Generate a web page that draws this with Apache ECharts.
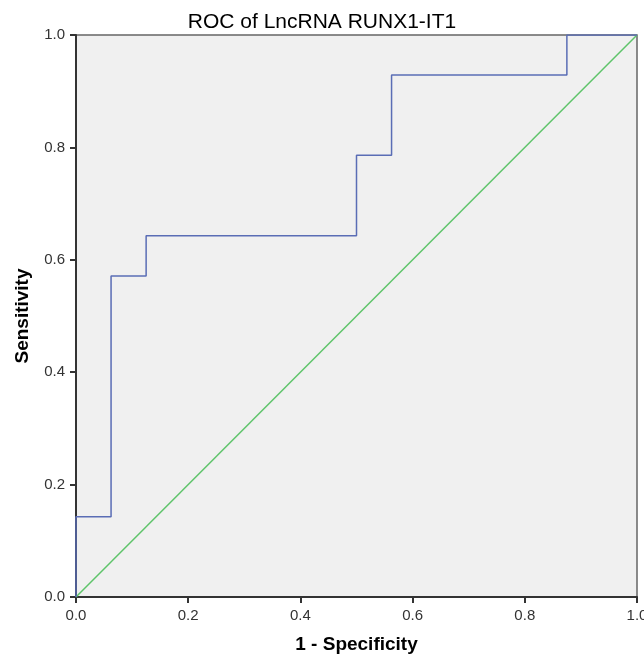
<!DOCTYPE html>
<html><head><meta charset="utf-8">
<script src="https://cdn.jsdelivr.net/npm/echarts@6/dist/echarts.min.js"></script>
<style>html,body{margin:0;padding:0;background:#fff;overflow:hidden}#c{width:644px;height:659px}</style>
</head><body><div id="c"></div>
<script>
const fpr = [0, 0, 0.0625, 0.0625, 0.125, 0.125, 0.5, 0.5, 0.5625, 0.5625, 0.875, 0.875, 1];
const tpr = [0, 0.143, 0.143, 0.571, 0.571, 0.643, 0.643, 0.786, 0.786, 0.929, 0.929, 1, 1];
const refX = [0, 1];
const refY = [0, 1];
const chart = echarts.init(document.getElementById('c'));
const font = 'Arial, "Liberation Sans", sans-serif';
chart.setOption({
  animation: false,
  title: {text: 'ROC of LncRNA RUNX1-IT1', left: 'center', top: 7,
    textStyle: {fontFamily: font, fontSize: 21, fontWeight: 'normal', color: '#000'}},
  grid: {left: 76, right: 7, top: 35, bottom: 62, show: true, backgroundColor: '#f0f0f0',
    borderColor: '#666', borderWidth: 1.5, outerBoundsMode: 'none', containLabel: false},
  xAxis: {type: 'value', min: 0, max: 1, interval: 0.2,
    name: '1 - Specificity', nameLocation: 'middle', nameGap: 38,
    nameTextStyle: {fontFamily: font, fontSize: 19, fontWeight: 'bold', color: '#000'},
    axisLine: {show: true, lineStyle: {color: '#333', width: 2}},
    axisTick: {show: true, length: 6, lineStyle: {color: '#333', width: 2}},
    axisLabel: {fontFamily: font, fontSize: 15, color: '#333', margin: 11, formatter: v => v.toFixed(1)},
    splitLine: {show: false}},
  yAxis: {type: 'value', min: 0, max: 1, interval: 0.2,
    name: 'Sensitivity', nameLocation: 'middle', nameGap: 44,
    nameTextStyle: {fontFamily: font, fontSize: 19, fontWeight: 'bold', color: '#000'},
    axisLine: {show: true, lineStyle: {color: '#333', width: 2}},
    axisTick: {show: true, length: 6, lineStyle: {color: '#333', width: 2}},
    axisLabel: {fontFamily: font, fontSize: 15, color: '#333', margin: 11, formatter: v => v.toFixed(1)},
    splitLine: {show: false}},
  series: [
    {type: 'line', data: refX.map((x, i) => [x, refY[i]]), symbol: 'none',
      lineStyle: {color: '#5ec46a', width: 1.5}},
    {type: 'line', data: fpr.map((x, i) => [x, tpr[i]]), symbol: 'none',
      lineStyle: {color: '#5a6db5', width: 1.5}}
  ]
});
</script></body></html>
